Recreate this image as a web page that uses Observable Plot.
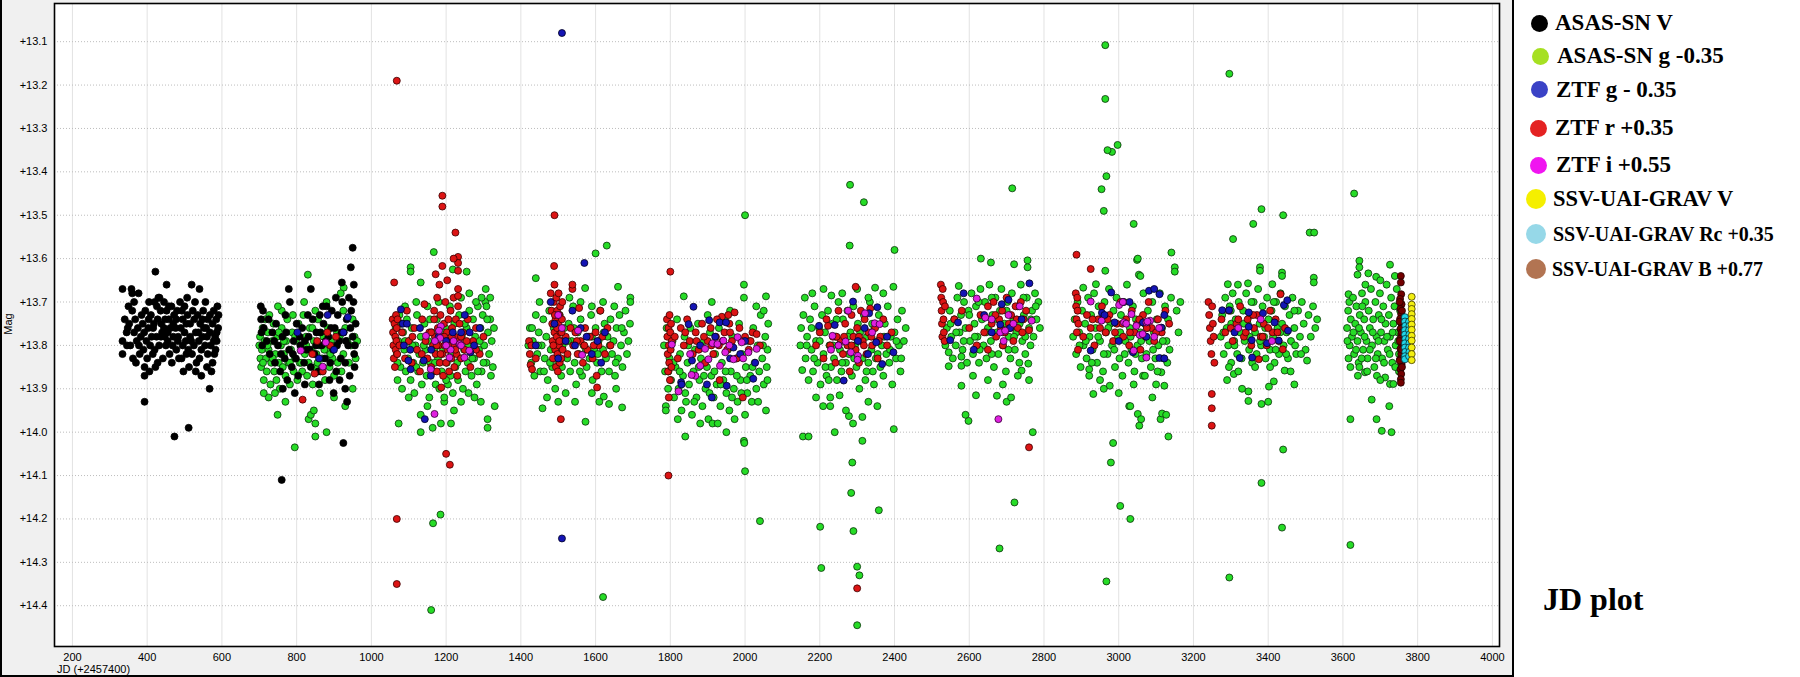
<!DOCTYPE html>
<html><head><meta charset="utf-8">
<script src="https://cdn.jsdelivr.net/npm/d3@7"></script>
<script src="https://cdn.jsdelivr.net/npm/@observablehq/plot@0.6"></script>
<style>
body{margin:0;background:#fff;}
#wrap{position:relative;width:1800px;height:677px;overflow:hidden;font-family:"Liberation Sans",Arial,sans-serif;}
#panel{position:absolute;left:0;top:0;width:1514px;height:677px;box-sizing:border-box;background:#f0f0f0;border-left:2px solid #000;border-right:2px solid #000;border-bottom:2px solid #000;}
#chart{position:absolute;left:0;top:0;}
#ylab{position:absolute;left:-7.5px;top:317px;width:30px;height:14px;line-height:14px;font-size:11px;text-align:center;transform:rotate(-90deg);color:#000;}
#xlab{position:absolute;left:57px;top:663px;font-size:11px;line-height:13px;color:#000;white-space:nowrap;}
.lg{position:absolute;display:flex;align-items:center;white-space:nowrap;font-family:"Liberation Serif","Times New Roman",serif;font-weight:bold;color:#000;}
.dotc{position:absolute;border-radius:50%;}
#jdplot{position:absolute;left:1543px;top:583px;font-family:"Liberation Serif","Times New Roman",serif;font-weight:bold;font-size:32px;line-height:32px;color:#000;}
</style></head>
<body>
<div id="wrap">
  <div id="panel"></div>
  <div id="chart"></div>
  <div id="ylab">Mag</div>
  <div id="xlab">JD (+2457400)</div>
  <div id="legend"></div>
  <div id="jdplot">JD plot</div>
</div>
<script>
// ---------- tick values ----------
const xTicks = [200,400,600,800,1000,1200,1400,1600,1800,2000,2200,2400,2600,2800,3000,3200,3400,3600,3800,4000];
const yTicks = [13.1,13.2,13.3,13.4,13.5,13.6,13.7,13.8,13.9,14.0,14.1,14.2,14.3,14.4];

// ---------- legend ----------
const seriesNames = ["ASAS-SN V","ASAS-SN g -0.35","ZTF g - 0.35","ZTF r +0.35","ZTF i +0.55","SSV-UAI-GRAV V","SSV-UAI-GRAV Rc +0.35","SSV-UAI-GRAV B +0.77"];
const legendColors = ["#000000","#a6e022","#3a42c6","#e42222","#f015f0","#f5ef00","#96d8e8","#b27452"];

// ---------- data: [JD-2457400, mag] ----------
const asasV = [
[334,13.67],[358,13.67],[360,13.68],[377,13.68],[422,13.63],[452,13.66],[519,13.66],[540,13.67],[430,13.69],[433,13.69],[507,13.69],[393,13.93],[473,14.01],[511,13.99],[567,13.90],[393,13.87],[393,13.85],[422,13.85],[334,13.82],[334,13.79],[591,13.73],[588,13.71],[585,13.74],[590,13.76],[586,13.79],[580,13.82],[575,13.84],[572,13.86],[560,13.85],[545,13.87],[540,13.83],[532,13.84],[525,13.80],[515,13.78],[505,13.82],[495,13.80],[485,13.83],[478,13.81],[470,13.78],[462,13.76],[455,13.79],[448,13.74],[440,13.77],[432,13.80],[425,13.78],[418,13.75],[410,13.73],[403,13.76],[398,13.79],[390,13.81],[383,13.78],[375,13.76],[368,13.74],[360,13.72],[352,13.75],[345,13.77],[340,13.74],[355,13.80],[362,13.83],[370,13.84],[380,13.82],[388,13.75],[395,13.72],[405,13.70],[412,13.78],[420,13.81],[428,13.74],[436,13.72],[445,13.70],[452,13.72],[458,13.74],[465,13.71],[472,13.73],[480,13.72],[488,13.70],[495,13.74],[500,13.71],[508,13.73],[515,13.75],[522,13.72],[528,13.70],[535,13.73],[542,13.75],[550,13.72],[556,13.70],[562,13.74],[568,13.77],[575,13.75],[582,13.78],[548,13.78],[555,13.80],[562,13.82],[570,13.80],[530,13.77],[520,13.82],[512,13.85],[500,13.77],[490,13.76],[483,13.78],[476,13.76],[468,13.80],[460,13.82],[450,13.80],[442,13.83],[437,13.78],[415,13.82],[408,13.80],[400,13.83],[385,13.73],[372,13.79],[365,13.77],[350,13.71],[346,13.80],[420,13.70],[445,13.76],[478,13.74],[503,13.79],[538,13.79],[552,13.76],[578,13.72],[583,13.81],[510,13.81],[466,13.84],[497,13.86],[545,13.81],[455,13.77],[428,13.84],[406,13.86],[560,13.78],[530,13.86],[492,13.83],
[348,13.76],[365,13.70],[378,13.80],[392,13.77],[404,13.74],[416,13.76],[426,13.71],[438,13.75],[447,13.78],[458,13.71],[470,13.75],[482,13.79],[493,13.72],[505,13.75],[518,13.79],[526,13.74],[537,13.77],[548,13.74],[558,13.76],[568,13.73],[578,13.79],[586,13.77],
[704,13.71],[705,13.74],[706,13.77],[708,13.80],[710,13.72],[712,13.76],[779,13.67],[782,13.70],[838,13.67],[921,13.655],[953,13.66],[945,13.62],[950,13.575],[763,13.90],[899,13.91],[760,14.11],[925,14.025],[720,13.79],[728,13.82],[735,13.77],[742,13.84],[750,13.80],[756,13.86],[762,13.78],[768,13.83],[775,13.88],[780,13.81],[787,13.85],[792,13.79],[798,13.83],[804,13.87],[810,13.80],[815,13.76],[820,13.84],[826,13.81],[832,13.78],[838,13.85],[843,13.74],[848,13.82],[853,13.77],[858,13.86],[862,13.73],[867,13.80],[872,13.75],[876,13.83],[880,13.71],[885,13.78],[890,13.84],[894,13.72],[898,13.81],[902,13.76],[906,13.86],[910,13.73],[914,13.79],[918,13.83],[922,13.70],[926,13.77],[930,13.84],[934,13.74],[938,13.80],[942,13.87],[946,13.72],[950,13.78],[954,13.82],[958,13.75],[940,13.69],[905,13.69],[870,13.71],[830,13.73],[800,13.75],[770,13.73],[745,13.75],[915,13.88],[930,13.90],[888,13.88],[860,13.89],[822,13.89],[795,13.91],[935,13.93],[955,13.85],[952,13.70],
[725,13.74],[740,13.79],[758,13.82],[772,13.77],[790,13.82],[808,13.78],[822,13.79],[835,13.81],[852,13.80],[864,13.77],[878,13.79],[892,13.76],[908,13.80],[920,13.77],[932,13.79],[944,13.76],[956,13.80]
];

const asasG = [
[700,13.80],[702,13.78],[703,13.83],[705,13.85],[707,13.81],[709,13.76],[712,13.88],[714,13.79],[716,13.74],[718,13.83],[720,13.86],[723,13.77],[725,13.81],[727,13.73],[730,13.89],[732,13.84],[735,13.79],[738,13.75],[740,13.86],[743,13.82],[746,13.88],[748,13.78],[752,13.84],[755,13.90],[758,13.80],[760,13.76],[763,13.85],[766,13.82],[770,13.87],[772,13.79],[775,13.74],[778,13.84],[782,13.89],[785,13.81],[788,13.77],[792,13.86],[795,13.83],[798,13.79],[802,13.88],[805,13.75],[808,13.84],[812,13.80],[815,13.86],[818,13.73],[822,13.82],[825,13.78],[828,13.87],[832,13.84],[835,13.76],[840,13.81],[843,13.89],[846,13.79],[850,13.85],[853,13.82],[857,13.74],[860,13.80],[864,13.86],[868,13.83],[872,13.78],[876,13.88],[880,13.81],[884,13.76],[888,13.85],[892,13.79],[896,13.83],[900,13.87],[905,13.80],[910,13.84],[915,13.78],[920,13.86],[925,13.82],[930,13.76],[935,13.79],[940,13.84],[945,13.80],[950,13.74],[955,13.78],[958,13.83],[962,13.79],[760,13.72],[790,13.73],[820,13.70],[850,13.72],[880,13.70],[925,13.72],[750,13.71],[830,13.637],[926,13.667],[918,13.68],[725,13.92],[749,13.96],[832,13.97],[838,13.96],[846,13.95],[850,13.98],[795,14.035],[850,14.01],[880,14.0],[770,13.93],[742,13.91],[900,13.92],[930,13.94],[862,13.91],[712,13.91],[950,13.90],
[710,13.84],[722,13.80],[736,13.83],[752,13.77],[766,13.79],[782,13.84],[796,13.78],[812,13.84],[826,13.80],[842,13.76],[856,13.84],[874,13.81],[890,13.82],[908,13.77],
[1065,13.76],[1068,13.82],[1070,13.88],[1072,13.79],[1075,13.73],[1078,13.85],[1082,13.90],[1085,13.77],[1088,13.81],[1092,13.86],[1095,13.74],[1098,13.83],[1102,13.79],[1105,13.88],[1108,13.76],[1112,13.84],[1115,13.91],[1118,13.80],[1122,13.73],[1125,13.86],[1128,13.82],[1132,13.78],[1135,13.89],[1138,13.84],[1142,13.75],[1145,13.81],[1148,13.87],[1152,13.79],[1155,13.92],[1158,13.84],[1162,13.77],[1165,13.86],[1168,13.81],[1172,13.89],[1175,13.74],[1178,13.83],[1182,13.90],[1185,13.78],[1188,13.86],[1192,13.81],[1195,13.93],[1198,13.76],[1202,13.84],[1205,13.89],[1208,13.79],[1212,13.87],[1215,13.82],[1218,13.91],[1222,13.75],[1225,13.85],[1228,13.80],[1232,13.88],[1235,13.73],[1238,13.83],[1242,13.78],[1245,13.90],[1248,13.81],[1252,13.86],[1255,13.76],[1258,13.84],[1262,13.72],[1265,13.80],[1268,13.87],[1272,13.74],[1275,13.83],[1278,13.78],[1282,13.89],[1285,13.71],[1288,13.81],[1292,13.76],[1295,13.86],[1298,13.73],[1302,13.80],[1305,13.70],[1308,13.84],[1312,13.77],[1315,13.82],[1318,13.74],[1322,13.79],[1325,13.85],[1328,13.76],[1318,13.69],[1308,13.71],[1295,13.69],[1280,13.70],[1262,13.68],[1240,13.69],[1210,13.71],[1180,13.70],[1150,13.71],[1120,13.70],[1090,13.71],[1167,13.585],[1105,13.62],[1105,13.63],[1132,13.655],[1218,13.625],[1255,13.63],[1306,13.67],[1330,13.94],[1073,13.98],[1132,13.96],[1132,14.0],[1164,13.99],[1186,13.98],[1213,13.98],[1221,13.95],[1311,13.97],[1311,13.99],[1293,13.93],[1195,13.92],[1240,13.93],[1165,14.21],[1160,14.41],[1185,14.19],[1260,13.91],[1100,13.92],[1150,13.94],[1276,13.92],
[1070,13.84],[1080,13.75],[1090,13.79],[1110,13.80],[1120,13.85],[1140,13.80],[1157,13.74],[1170,13.84],[1190,13.77],[1200,13.88],[1220,13.78],[1230,13.84],[1250,13.75],[1260,13.80],[1270,13.83],[1290,13.79],[1300,13.84],[1310,13.74],[1320,13.87],[1285,13.86],
[1420,13.80],[1424,13.76],[1428,13.84],[1432,13.79],[1436,13.87],[1440,13.645],[1440,13.73],[1444,13.82],[1448,13.77],[1452,13.86],[1456,13.80],[1458,13.945],[1460,13.74],[1464,13.83],[1468,13.78],[1472,13.88],[1476,13.72],[1480,13.81],[1484,13.85],[1488,13.76],[1492,13.90],[1496,13.79],[1500,13.84],[1504,13.73],[1508,13.87],[1512,13.80],[1516,13.76],[1520,13.91],[1524,13.83],[1528,13.75],[1532,13.86],[1536,13.79],[1540,13.71],[1544,13.84],[1548,13.89],[1552,13.77],[1556,13.82],[1560,13.74],[1564,13.87],[1568,13.80],[1572,13.668],[1573,13.976],[1576,13.85],[1580,13.78],[1584,13.83],[1588,13.73],[1592,13.88],[1596,13.81],[1600,13.588],[1600,13.76],[1604,13.84],[1608,13.79],[1612,13.72],[1616,13.86],[1620,14.38],[1620,13.81],[1622,13.918],[1624,13.75],[1628,13.83],[1630,13.57],[1632,13.78],[1636,13.935],[1636,13.86],[1640,13.74],[1644,13.82],[1648,13.79],[1652,13.87],[1656,13.76],[1660,13.665],[1660,13.83],[1664,13.73],[1668,13.80],[1671,13.943],[1672,13.85],[1676,13.77],[1680,13.72],[1684,13.82],[1688,13.79],[1693,13.69],[1693,13.70],[1692,13.75],[1450,13.70],[1530,13.69],[1560,13.70],[1590,13.71],[1620,13.70],[1650,13.71],[1470,13.92],[1545,13.93],[1590,13.91],[1655,13.90],[1610,13.93],[1500,13.93],
[1430,13.76],[1446,13.80],[1462,13.86],[1478,13.84],[1494,13.81],[1510,13.85],[1526,13.79],[1542,13.76],[1558,13.86],[1574,13.81],[1590,13.78],[1606,13.82],[1622,13.77],[1638,13.80],[1654,13.84],[1670,13.76],
[1783,13.80],[1786,13.86],[1788,13.94],[1788,13.95],[1790,13.76],[1794,13.90],[1798,13.83],[1802,13.88],[1806,13.79],[1810,13.92],[1814,13.85],[1818,13.74],[1822,13.90],[1826,13.82],[1830,13.95],[1834,13.87],[1836,13.687],[1838,13.78],[1840,14.01],[1842,13.93],[1846,13.84],[1850,13.89],[1854,13.76],[1858,13.96],[1862,13.86],[1866,13.81],[1870,13.92],[1874,13.75],[1878,13.88],[1882,13.83],[1886,13.94],[1890,13.79],[1894,13.90],[1898,13.85],[1902,13.97],[1906,13.77],[1910,13.87],[1911,13.70],[1913,13.98],[1916,13.92],[1920,13.82],[1924,13.89],[1927,13.98],[1930,13.76],[1934,13.94],[1938,13.84],[1942,13.88],[1946,13.74],[1950,13.91],[1954,13.81],[1958,13.95],[1962,13.86],[1966,13.78],[1970,13.90],[1972,13.97],[1976,13.83],[1980,13.93],[1984,13.75],[1988,13.88],[1992,13.82],[1997,13.66],[1997,13.69],[1997,14.02],[1998,14.025],[2000,13.96],[2002,13.85],[2006,13.91],[2010,13.79],[2014,13.87],[2018,13.93],[2022,13.76],[2026,13.84],[2030,13.90],[2034,13.80],[2038,13.86],[2042,13.73],[2046,13.83],[2050,13.89],[2054,13.78],[2056,13.687],[2056,13.95],[2058,13.85],[2060,13.81],[2062,13.75],[2030,13.71],[2050,13.72],[2000,13.50],[2000,14.09],[2040,14.205],[1880,13.98],[1950,14.00],[1820,13.97],[1960,13.72],[1900,13.73],
[1795,13.86],[1808,13.84],[1825,13.86],[1840,13.91],[1848,13.80],[1864,13.93],[1876,13.85],[1890,13.87],[1905,13.91],[1918,13.86],[1935,13.89],[1948,13.86],[1965,13.92],[1978,13.87],[1990,13.91],[2005,13.88],[2020,13.85],[2035,13.93],[2048,13.80],[2060,13.88],
[2148,13.80],[2150,13.76],[2153,13.857],[2155,14.01],[2156,13.73],[2160,13.69],[2162,13.83],[2166,13.78],[2170,13.88],[2174,13.74],[2178,13.81],[2182,13.86],[2186,13.71],[2190,13.79],[2194,13.84],[2198,13.76],[2202,13.89],[2206,13.73],[2209,13.94],[2210,13.82],[2214,13.77],[2218,13.87],[2222,13.72],[2226,13.80],[2228,13.92],[2228,13.94],[2230,13.85],[2231,13.685],[2234,13.75],[2238,13.83],[2242,13.78],[2246,13.88],[2250,13.70],[2253,13.915],[2254,13.81],[2258,13.86],[2262,13.74],[2266,13.79],[2270,13.84],[2274,13.72],[2278,13.963],[2278,13.82],[2282,13.77],[2286,13.87],[2289,13.98],[2290,13.71],[2294,13.80],[2298,13.85],[2302,13.75],[2306,13.90],[2310,13.79],[2314,14.02],[2314,13.965],[2314,13.83],[2318,13.73],[2322,13.88],[2326,13.78],[2330,13.84],[2334,13.70],[2338,13.81],[2342,13.86],[2346,13.76],[2348,13.667],[2350,13.83],[2354,13.94],[2354,13.79],[2358,13.73],[2362,13.85],[2366,13.80],[2370,13.87],[2374,13.75],[2378,13.82],[2382,13.71],[2386,13.84],[2390,13.78],[2394,13.89],[2397,13.665],[2398,13.993],[2400,13.77],[2404,13.83],[2408,13.74],[2412,13.80],[2416,13.86],[2420,13.72],[2425,13.79],[2430,13.76],[2180,13.68],[2210,13.67],[2260,13.68],[2300,13.67],[2330,13.69],[2370,13.68],[2281,13.43],[2318,13.47],[2280,13.57],[2400,13.58],[2201,14.218],[2204,14.313],[2290,14.228],[2300,14.31],[2306,14.33],[2300,14.445],[2358,14.18],[2284,14.14],[2287,14.07],[2170,14.01],[2240,14.00],[2330,13.93],[2190,13.92],[2270,13.95],
[2165,13.80],[2185,13.83],[2200,13.79],[2215,13.85],[2235,13.80],[2245,13.74],[2260,13.84],[2275,13.78],[2292,13.83],[2308,13.77],[2325,13.86],[2340,13.75],[2355,13.82],[2372,13.78],[2388,13.81],[2405,13.79],[2418,13.83],[2178,13.76],[2224,13.88],[2345,13.89],
[2536,13.80],[2540,13.76],[2545,13.816],[2545,13.848],[2548,13.72],[2552,13.78],[2556,13.83],[2560,13.74],[2564,13.80],[2568,13.69],[2572,13.663],[2574,13.77],[2578,13.73],[2579,13.826],[2579,13.847],[2579,13.893],[2582,13.81],[2586,13.70],[2590,13.76],[2594,13.84],[2598,13.974],[2598,13.72],[2602,13.79],[2606,13.68],[2610,13.82],[2614,13.75],[2618,13.915],[2618,13.71],[2622,13.78],[2626,13.84],[2630,13.67],[2631,13.60],[2634,13.74],[2638,13.80],[2642,13.70],[2646,13.83],[2650,13.76],[2654,13.66],[2658,13.609],[2658,13.79],[2662,13.73],[2666,13.85],[2670,13.69],[2674,13.916],[2674,13.77],[2678,13.82],[2682,13.72],[2686,13.67],[2690,13.80],[2694,13.75],[2698,13.86],[2700,13.93],[2702,13.70],[2706,13.78],[2710,13.83],[2712,13.92],[2714,13.68],[2718,13.74],[2720,13.613],[2722,13.81],[2726,13.77],[2730,13.71],[2734,13.84],[2738,13.66],[2740,13.858],[2742,13.79],[2746,13.73],[2750,13.82],[2754,13.69],[2756,13.604],[2756,13.62],[2758,13.842],[2760,13.76],[2764,13.80],[2768,13.72],[2772,13.78],[2776,13.68],[2780,13.74],[2785,13.70],[2789,13.76],[2715,13.438],[2721,14.162],[2681,14.268],[2770,14.00],[2590,13.96],[2650,13.88],[2690,13.89],[2730,13.87],[2610,13.87],[2760,13.88],
[2550,13.75],[2565,13.77],[2585,13.79],[2600,13.73],[2615,13.78],[2628,13.81],[2645,13.77],[2660,13.82],[2675,13.74],[2690,13.77],[2705,13.81],[2720,13.78],[2735,13.75],[2750,13.78],[2765,13.74],[2778,13.71],[2625,13.70],[2700,13.72],[2745,13.69],[2660,13.69],
[2878,13.78],[2882,13.74],[2886,13.82],[2890,13.70],[2894,13.77],[2898,13.85],[2902,13.72],[2905,13.667],[2906,13.80],[2910,13.75],[2914,13.83],[2918,13.69],[2921,13.855],[2921,13.87],[2922,13.78],[2926,13.73],[2930,13.81],[2932,13.912],[2934,13.68],[2938,13.76],[2939,13.659],[2942,13.84],[2946,13.71],[2950,13.79],[2954,13.74],[2958,13.86],[2962,13.70],[2964,13.628],[2966,13.77],[2970,13.82],[2974,13.67],[2976,13.893],[2978,13.75],[2982,13.80],[2986,13.72],[2990,13.85],[2994,13.69],[2998,13.78],[3002,13.83],[3006,13.73],[3010,13.87],[3014,13.70],[3018,13.79],[3022,13.66],[3026,13.84],[3028,13.94],[3030,13.76],[3031,13.94],[3034,13.81],[3038,13.71],[3042,13.86],[3046,13.74],[3049,13.603],[3050,13.80],[3051,13.60],[3051,13.958],[3054,13.637],[3055,13.985],[3058,13.64],[3058,13.77],[3062,13.83],[3065,13.87],[3066,13.68],[3070,13.87],[3070,13.75],[3074,13.82],[3078,13.72],[3082,13.79],[3086,13.85],[3090,13.70],[3094,13.77],[3098,13.83],[3102,13.74],[3106,13.80],[3110,13.68],[3112,13.97],[3114,13.862],[3116,13.957],[3116,13.76],[3120,13.83],[3122,13.893],[3124,13.71],[3127,13.96],[3128,13.79],[3132,13.74],[3136,13.81],[3140,13.69],[3141,13.586],[3150,13.62],[3150,13.63],[3155,13.72],[3160,13.77],[3165,13.70],[2964,13.108],[2964,13.232],[2982,13.354],[2970,13.35],[2997,13.338],[2967,13.41],[2954,13.44],[2960,13.49],[2985,14.025],[2979,14.07],[3004,14.17],[3031,14.20],[2967,14.344],[3133,14.01],[3060,13.97],[3040,13.52],[2960,13.90],[3000,13.91],[3090,13.92],
[2895,13.80],[2912,13.79],[2928,13.84],[2945,13.78],[2960,13.82],[2972,13.76],[2988,13.81],[3004,13.77],[3016,13.82],[3032,13.78],[3045,13.82],[3060,13.79],[3076,13.76],[3092,13.81],[3104,13.86],[3118,13.79],[3130,13.84],[2950,13.88],[3040,13.89],[3100,13.89],
[3273,13.78],[3277,13.73],[3281,13.82],[3285,13.69],[3289,13.76],[3292,13.659],[3293,13.80],[3297,13.71],[3301,13.84],[3301,13.75],[3305,13.68],[3308,13.866],[3309,13.79],[3313,13.74],[3317,13.82],[3319,13.66],[3321,13.70],[3325,13.77],[3329,13.83],[3333,13.72],[3337,13.79],[3341,13.68],[3345,13.75],[3346,13.657],[3347,13.906],[3347,13.928],[3349,13.81],[3353,13.73],[3357,13.84],[3361,13.70],[3365,13.77],[3369,13.82],[3373,13.67],[3377,13.75],[3378,13.62],[3378,13.628],[3381,13.80],[3382,13.935],[3385,13.71],[3389,13.78],[3393,13.83],[3397,13.69],[3401,13.74],[3402,13.895],[3405,13.81],[3409,13.72],[3411,13.659],[3413,13.78],[3415,13.883],[3417,13.84],[3421,13.70],[3425,13.76],[3429,13.82],[3433,13.68],[3437,13.632],[3437,13.64],[3437,13.75],[3441,13.80],[3444,13.858],[3445,13.71],[3449,13.77],[3453,13.83],[3457,13.73],[3461,13.79],[3465,13.69],[3470,13.76],[3475,13.82],[3480,13.72],[3485,13.78],[3490,13.70],[3495,13.75],[3500,13.81],[3504,13.835],[3508,13.73],[3514,13.78],[3520,13.71],[3522,13.644],[3522,13.655],[3526,13.76],[3531,13.74],[3296,13.174],[3296,14.335],[3382,14.117],[3437,14.22],[3440,14.04],[3382,13.486],[3440,13.50],[3511,13.54],[3523,13.54],[3306,13.555],[3360,13.52],[3330,13.90],[3400,13.93],[3470,13.89],[3290,13.88],
[3280,13.77],[3295,13.85],[3310,13.80],[3320,13.86],[3335,13.75],[3350,13.78],[3365,13.85],[3378,13.79],[3392,13.76],[3405,13.85],[3420,13.81],[3432,13.77],[3448,13.82],[3460,13.86],[3472,13.80],[3488,13.82],[3300,13.72],[3355,13.70],[3415,13.70],[3470,13.72],
[3611,13.76],[3614,13.72],[3615,13.682],[3615,13.83],[3617,13.70],[3618,13.80],[3621,13.74],[3624,13.78],[3627,13.69],[3630,13.82],[3633,13.75],[3636,13.71],[3639,13.637],[3639,13.79],[3642,13.84],[3644,13.605],[3644,13.62],[3644,13.85],[3645,13.73],[3648,13.77],[3651,13.68],[3654,13.81],[3657,13.74],[3659,13.862],[3660,13.70],[3663,13.79],[3666,13.83],[3668,13.634],[3669,13.72],[3672,13.76],[3675,13.67],[3677,13.925],[3678,13.80],[3681,13.74],[3684,13.85],[3687,13.70],[3689,13.642],[3690,13.78],[3691,13.87],[3693,13.82],[3696,13.73],[3699,13.68],[3702,13.77],[3704,13.997],[3705,13.83],[3708,13.71],[3711,13.79],[3713,13.874],[3714,13.75],[3717,13.66],[3720,13.81],[3723,13.73],[3724,13.94],[3726,13.614],[3726,13.889],[3726,13.78],[3729,13.69],[3732,13.84],[3735,13.889],[3735,13.75],[3738,13.71],[3739,13.64],[3741,13.80],[3744,13.67],[3747,13.77],[3750,13.82],[3753,13.72],[3630,13.45],[3620,14.26],[3620,13.97],[3730,14.00],[3690,13.97],[3640,13.87],[3700,13.88],[3750,13.86],[3660,13.66],[3700,13.65],
[3612,13.79],[3620,13.85],[3628,13.77],[3635,13.81],[3643,13.76],[3650,13.83],[3658,13.78],[3665,13.86],[3672,13.81],[3680,13.77],[3688,13.83],[3695,13.79],[3703,13.74],[3710,13.84],[3718,13.78],[3725,13.82],[3733,13.77],[3740,13.85],[3748,13.79],[3652,13.71]
];

const ztfR = [
[855,13.79],[882,13.77],[842,13.82],[870,13.86],[848,13.865],[816,13.925],[890,13.80],[905,13.78],
[1057,13.74],[1058,13.77],[1059,13.80],[1060,13.83],[1061,13.655],[1062,13.75],[1063,13.85],[1064,13.78],[1065,13.81],[1066,13.73],[1067,13.79],[1068,13.76],[1069,13.82],[1070,13.74],[1068,13.19],[1068,14.20],[1068,14.35],[1075,13.80],[1082,13.77],[1090,13.83],[1095,13.72],[1100,13.79],[1108,13.84],[1115,13.76],[1122,13.81],[1130,13.86],[1136,13.74],[1142,13.705],[1145,13.79],[1150,13.83],[1155,13.77],[1160,13.85],[1165,13.80],[1168,13.72],[1168,13.74],[1170,13.78],[1172,13.636],[1172,13.82],[1175,13.86],[1176,13.69],[1178,13.76],[1180,13.80],[1182,13.66],[1183,13.84],[1185,13.73],[1187,13.897],[1188,13.78],[1190,13.617],[1190,13.455],[1190,13.48],[1190,13.82],[1192,13.87],[1194,13.75],[1196,13.80],[1198,13.70],[1200,13.84],[1202,13.77],[1203,13.65],[1204,13.81],[1206,13.74],[1208,13.86],[1210,13.79],[1212,13.72],[1214,13.83],[1216,13.76],[1218,13.80],[1220,13.69],[1222,13.85],[1224,13.78],[1226,13.74],[1228,13.82],[1230,13.87],[1232,13.596],[1232,13.61],[1232,13.628],[1232,13.67],[1232,13.686],[1232,13.71],[1234,13.79],[1236,13.75],[1240,13.83],[1245,13.77],[1250,13.81],[1258,13.74],[1265,13.85],[1272,13.79],[1280,13.76],[1290,13.82],[1300,13.78],[1200,14.05],[1210,14.075],[1225,13.54],[1220,13.60],
[1160,13.77],[1175,13.80],[1185,13.82],[1195,13.78],[1205,13.80],[1215,13.78],[1225,13.81],[1240,13.78],[1110,13.78],[1135,13.82],[1255,13.79],[1280,13.81],
[1422,13.79],[1424,13.82],[1426,13.845],[1428,13.80],[1430,13.855],[1440,13.83],[1480,13.68],[1482,13.72],[1484,13.75],[1485,13.79],[1486,13.83],[1488,13.70],[1489,13.617],[1490,13.66],[1490,13.77],[1492,13.81],[1493,13.74],[1494,13.85],[1495,13.69],[1496,13.78],[1497,13.72],[1498,13.82],[1499,13.86],[1500,13.75],[1501,13.68],[1502,13.80],[1503,13.73],[1504,13.84],[1505,13.71],[1506,13.77],[1507,13.97],[1508,13.83],[1509,13.79],[1510,13.74],[1511,13.70],[1512,13.81],[1490,13.50],[1520,13.78],[1525,13.82],[1533,13.76],[1538,13.67],[1538,13.66],[1540,13.80],[1546,13.77],[1552,13.82],[1556,13.714],[1560,13.79],[1566,13.84],[1572,13.76],[1578,13.81],[1585,13.78],[1592,13.83],[1600,13.77],[1603,13.87],[1604,13.897],[1608,13.80],[1613,13.72],[1618,13.78],[1625,13.82],[1632,13.76],[1640,13.80],
[1487,13.80],[1491,13.73],[1497,13.76],[1503,13.79],[1509,13.77],[1550,13.79],[1570,13.80],[1595,13.80],
[1791,13.74],[1792,13.78],[1793,13.82],[1794,13.86],[1795,13.76],[1796,13.80],[1796,13.92],[1797,13.84],[1798,13.73],[1799,13.88],[1800,13.77],[1801,13.81],[1802,13.75],[1803,13.85],[1804,13.79],[1795,14.10],[1800,13.63],[1812,13.78],[1820,13.83],[1828,13.76],[1836,13.80],[1845,13.74],[1852,13.79],[1860,13.82],[1868,13.77],[1876,13.81],[1885,13.75],[1893,13.84],[1900,13.79],[1908,13.76],[1915,13.82],[1922,13.78],[1930,13.80],[1932,13.88],[1938,13.734],[1945,13.77],[1952,13.81],[1958,13.75],[1965,13.79],[1972,13.724],[1978,13.83],[1985,13.76],[1994,13.92],[2000,13.78],[2010,13.81],[2020,13.77],[2031,13.774],[2040,13.80],[1955,13.73],[1925,13.74],
[1840,13.77],[1870,13.79],[1890,13.78],[1910,13.80],[1940,13.79],[1960,13.77],[1990,13.79],[2015,13.79],
[2190,13.80],[2200,13.77],[2210,13.83],[2218,13.74],[2222,13.755],[2228,13.80],[2235,13.78],[2242,13.84],[2250,13.72],[2256,13.79],[2262,13.82],[2268,13.75],[2274,13.80],[2280,13.86],[2285,13.73],[2290,13.78],[2296,13.665],[2296,13.81],[2300,13.76],[2305,13.84],[2310,13.72],[2315,13.79],[2320,13.74],[2325,13.82],[2330,13.77],[2335,13.715],[2340,13.80],[2348,13.76],[2355,13.83],[2362,13.78],[2370,13.74],[2380,13.80],[2392,13.77],[2300,14.36],
[2245,13.78],[2265,13.78],[2285,13.80],[2305,13.78],[2318,13.80],[2338,13.78],[2358,13.79],
[2524,13.66],[2525,13.69],[2526,13.72],[2527,13.75],[2528,13.78],[2529,13.67],[2530,13.70],[2531,13.74],[2532,13.77],[2534,13.79],[2535,13.71],[2560,13.74],[2580,13.72],[2600,13.76],[2620,13.80],[2630,13.73],[2640,13.77],[2650,13.71],[2660,13.75],[2665,13.70],[2672,13.78],[2680,13.74],[2688,13.72],[2695,13.77],[2700,13.69],[2706,13.75],[2712,13.73],[2718,13.79],[2724,13.71],[2730,13.76],[2738,13.70],[2745,13.74],[2752,13.72],[2760,13.765],[2760,14.035],[2690,13.80],[2650,13.81],
[2670,13.73],[2685,13.76],[2710,13.76],[2727,13.74],[2742,13.77],
[2885,13.68],[2886,13.71],[2887,13.591],[2887,13.74],[2888,13.77],[2889,13.69],[2890,13.72],[2891,13.81],[2892,13.75],[2905,13.78],[2915,13.73],[2925,13.624],[2925,13.76],[2935,13.80],[2945,13.74],[2955,13.71],[2965,13.77],[2975,13.73],[2985,13.79],[2995,13.75],[3005,13.70],[3012,13.78],[3020,13.74],[3028,13.80],[3035,13.72],[3042,13.77],[3050,13.75],[3058,13.81],[3065,13.73],[3072,13.78],[3080,13.70],[3088,13.76],[3095,13.79],[3105,13.74],[3115,13.77],[3125,13.72],[3135,13.75],
[2930,13.74],[2950,13.76],[2970,13.74],[2990,13.77],[3010,13.75],[3030,13.77],[3055,13.74],[3075,13.76],[3100,13.77],
[3240,13.70],[3242,13.73],[3244,13.76],[3246,13.79],[3248,13.82],[3250,13.71],[3252,13.75],[3254,13.78],[3256,13.84],[3249,13.912],[3249,13.945],[3249,13.985],[3275,13.74],[3285,13.77],[3295,13.72],[3305,13.79],[3315,13.75],[3325,13.71],[3335,13.78],[3345,13.74],[3355,13.80],[3362,13.76],[3370,13.73],[3375,13.832],[3380,13.78],[3388,13.75],[3396,13.80],[3405,13.72],[3412,13.77],[3420,13.74],[3428,13.79],[3433,13.682],[3439,13.809],[3445,13.76],
[3300,13.76],[3320,13.74],[3340,13.77],[3360,13.73],[3385,13.78],[3400,13.76],[3425,13.77]
];

const ztfG = [
[802,13.77],[883,13.73],[937,13.735],[860,13.83],[900,13.81],[925,13.77],
[1079,13.717],[1084,13.75],[1095,13.75],[1087,13.80],[1099,13.835],[1105,13.855],[1104,13.81],[1140,13.835],[1143,13.97],[1159,13.87],[1160,13.81],[1218,13.77],[1240,13.77],[1250,13.73],[1263,13.77],[1265,13.816],[1275,13.80],[1290,13.76],[1200,13.79],[1180,13.78],[1130,13.76],
[1440,13.80],[1480,13.70],[1490,13.75],[1510,13.08],[1510,14.245],[1520,13.79],[1538,13.72],[1545,13.80],[1560,13.76],[1570,13.61],[1576,13.78],[1590,13.82],[1605,13.79],[1615,13.84],[1625,13.77],[1500,13.83],
[1862,13.711],[1849,13.751],[1904,13.742],[1932,13.747],[1949,13.747],[1858,13.835],[1829,13.885],[1830,13.89],[1911,13.92],[1898,13.89],[1951,13.893],[1987,13.82],[2022,13.877],[1969,13.805],[2027,13.84],[1880,13.80],[1920,13.78],[1960,13.83],[2000,13.79],
[2289,13.699],[2332,13.726],[2354,13.712],[2198,13.755],[2240,13.753],[2302,13.79],[2351,13.793],[2367,13.843],[2264,13.881],[2329,13.82],[2397,13.816],[2250,13.80],[2320,13.76],[2380,13.78],
[2585,13.68],[2570,13.747],[2549,13.788],[2761,13.657],[2705,13.695],[2687,13.705],[2683,13.752],[2612,13.81],[2660,13.77],[2709,13.76],[2740,13.74],[2640,13.73],
[2980,13.678],[2955,13.725],[2962,13.73],[3012,13.70],[3029,13.70],[3081,13.674],[3109,13.682],[2989,13.747],[3065,13.747],[3114,13.759],[2925,13.812],[3038,13.816],[3109,13.829],[3074,13.78],[3122,13.73],[3122,13.83],[3095,13.67],[3000,13.79],
[3277,13.719],[3295,13.719],[3348,13.724],[3386,13.726],[3417,13.747],[3442,13.707],[3451,13.696],[3453,13.766],[3428,13.789],[3324,13.829],[3357,13.828],[3397,13.795],[3356,13.788],[3348,13.757],[3310,13.77]
];

const ztfI = [
[878,13.793],[870,13.849],[811,13.812],
[1146,13.778],[1186,13.756],[1181,13.766],[1184,13.783],[1209,13.828],[1236,13.797],[1249,13.828],[1159,13.855],[1169,13.958],[1240,13.80],[1262,13.812],[1212,13.81],[1220,13.79],[1200,13.80],[1170,13.79],
[1553,13.766],[1564,13.822],[1500,13.73],[1510,13.76],
[1804,13.798],[1822,13.906],[1867,13.87],[1893,13.808],[1913,13.795],[1926,13.797],[1942,13.789],[1958,13.80],[1980,13.781],[1991,13.793],[2009,13.816],[2031,13.808],[1853,13.82],[1947,13.816],[1969,13.832],[1933,13.847],[1902,13.832],[1880,13.847],[1857,13.868],[1995,13.83],
[2276,13.72],[2321,13.726],[2347,13.749],[2360,13.751],[2234,13.778],[2269,13.791],[2230,13.81],[2283,13.816],[2302,13.824],[2301,13.833],[2250,13.80],[2340,13.77],
[2620,13.692],[2643,13.736],[2660,13.74],[2683,13.77],[2696,13.766],[2718,13.75],[2735,13.71],[2767,13.743],[2692,13.79],[2678,13.97],[2705,13.73],
[2925,13.699],[2954,13.743],[3001,13.707],[3014,13.747],[3034,13.728],[3047,13.755],[3074,13.747],[3084,13.743],[3108,13.76],[3056,13.776],[3040,13.812],[3074,13.828],[3011,13.70],[3020,13.75],[3064,13.774],[3077,13.745],[3095,13.78],
[3320,13.76],[3380,13.74],[3410,13.79]
];

const gravB = [
[3755,13.64],[3755,13.655],[3756,13.682],[3753,13.693],[3757,13.705],[3754,13.716],[3756,13.728],[3753,13.739],[3757,13.751],[3754,13.762],[3756,13.774],[3753,13.785],[3757,13.797],[3754,13.808],[3756,13.82],[3753,13.832],[3757,13.843],[3754,13.855],[3756,13.866],[3755,13.878],[3755,13.886],[3752,13.70],[3758,13.72],[3752,13.745],[3758,13.77],[3752,13.79],[3758,13.81],[3752,13.835],[3758,13.85]
];

const gravRc = [
[3766,13.735],[3766,13.745],[3767,13.755],[3766,13.765],[3766,13.775],[3767,13.785],[3766,13.795],[3766,13.805],[3767,13.815],[3766,13.825],[3766,13.832],[3777,13.745],[3778,13.755],[3777,13.765],[3778,13.775],[3777,13.785],[3778,13.795],[3777,13.805],[3778,13.815],[3777,13.825]
];

const gravV = [
[3784,13.688],[3784,13.706],[3784,13.716],[3784,13.728],[3784,13.739],[3784,13.752],[3784,13.764],[3784,13.778],[3784,13.789],[3784,13.805],[3784,13.82],[3784,13.834]
];

// ---------- styles (kept out of the data) ----------
const dotStyle = [
  {data: asasG, fill: "#26dc26", stroke: "#0a300a"},
  {data: asasV, fill: "#000000", stroke: "#000000"},
  {data: ztfR, fill: "#dc1414", stroke: "#3a0000"},
  {data: ztfG, fill: "#1414b4", stroke: "#000020"},
  {data: ztfI, fill: "#e020e0", stroke: "#300030"},
  {data: gravB, fill: "#720000", stroke: "#200000"},
  {data: gravRc, fill: "#22d4e6", stroke: "#003038"},
  {data: gravV, fill: "#f2ee10", stroke: "#403800"}
];

const chart = Plot.plot({
  width: 1514,
  height: 677,
  marginLeft: 54,
  marginRight: 15,
  marginTop: 3,
  marginBottom: 31,
  style: {background: "transparent", fontFamily: "'Liberation Sans', Arial, sans-serif", fontSize: "11px", color: "#000"},
  x: {domain: [152, 4019], ticks: xTicks, tickSize: 0, tickPadding: 7, label: null, tickFormat: d => String(d)},
  y: {domain: [13.012, 14.494], reverse: true, ticks: yTicks, tickSize: 0, tickPadding: 7, label: null, tickFormat: d => "+" + d.toFixed(1)},
  marks: [
    Plot.frame({fill: "white", stroke: "none"}),
    Plot.ruleX(xTicks, {stroke: "#e2e2e2", strokeWidth: 1}),
    Plot.ruleY(yTicks, {stroke: "#bdbdbd", strokeWidth: 1, strokeDasharray: "1,2"}),
    ...dotStyle.map(s => Plot.dot(s.data, {x: d => d[0], y: d => d[1], r: 3.5, fill: s.fill, stroke: s.stroke, strokeWidth: 0.8})),
    Plot.frame({stroke: "#000", strokeWidth: 1.6})
  ]
});
document.getElementById("chart").appendChild(chart);

// ---------- legend (HTML) ----------
const legendLayout = [
  {cx: 1539, cy: 23, r: 8.5, tx: 1555, fs: 23},
  {cx: 1540, cy: 56, r: 8.5, tx: 1557, fs: 23},
  {cx: 1539, cy: 89.5, r: 8.5, tx: 1556, fs: 23},
  {cx: 1538, cy: 128, r: 8.5, tx: 1555, fs: 23},
  {cx: 1538, cy: 165, r: 8.5, tx: 1556, fs: 23},
  {cx: 1536, cy: 199, r: 10, tx: 1553, fs: 22.5},
  {cx: 1536, cy: 234, r: 10, tx: 1553, fs: 20},
  {cx: 1536, cy: 269, r: 10, tx: 1552, fs: 20}
];
const leg = document.getElementById("legend");
seriesNames.forEach((name, i) => {
  const L = legendLayout[i];
  const c = document.createElement("div");
  c.className = "dotc";
  c.style.left = (L.cx - L.r) + "px";
  c.style.top = (L.cy - L.r) + "px";
  c.style.width = (2 * L.r) + "px";
  c.style.height = (2 * L.r) + "px";
  c.style.background = legendColors[i];
  leg.appendChild(c);
  const t = document.createElement("div");
  t.className = "lg";
  t.style.left = L.tx + "px";
  t.style.top = (L.cy - 12) + "px";
  t.style.height = "24px";
  t.style.lineHeight = "24px";
  t.style.fontSize = L.fs + "px";
  t.textContent = name;
  leg.appendChild(t);
});
</script>
</body></html>
